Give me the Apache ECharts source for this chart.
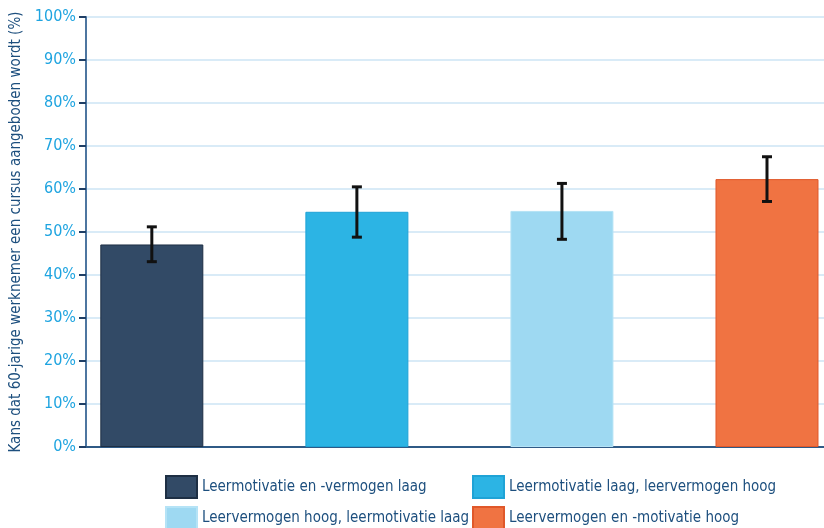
<!DOCTYPE html>
<html>
<head>
<meta charset="utf-8">
<script src="https://cdn.jsdelivr.net/npm/echarts@6/dist/echarts.min.js"></script>
<style>
html,body{margin:0;padding:0;background:#fff;}
#chart{width:824px;height:528px;}
</style>
</head>
<body>
<div id="chart"></div>
<script>
var categories = [
  'Leermotivatie en -vermogen laag',
  'Leermotivatie laag, leervermogen hoog',
  'Leervermogen hoog, leermotivatie laag',
  'Leervermogen en -motivatie hoog'
];
var values = [47.1, 54.7, 54.9, 62.3];
var errLow = [43.1, 48.8, 48.3, 57.1];
var errHigh = [51.2, 60.5, 61.3, 67.5];
var colors = ['#324a66', '#2cb4e4', '#9ed9f2', '#f07342'];
var borderColors = ['#1e2f44', '#1fa3d6', '#b5e3f6', '#e0582a'];
var yTicks = [0, 10, 20, 30, 40, 50, 60, 70, 80, 90, 100];

var FONT = '"Liberation Sans Narrow", "DejaVu Sans Condensed", "Roboto Condensed", sans-serif';
var chart = echarts.init(document.getElementById('chart'));

var series = categories.map(function (name, i) {
  return {
    name: name,
    type: 'bar',
    barWidth: 103,
    barGap: '-100%',
    data: [[i, values[i]]],
    itemStyle: { color: colors[i], borderColor: borderColors[i], borderWidth: 1 },
    z: 2
  };
});

series.push({
  type: 'custom',
  name: 'err',
  z: 5,
  data: categories.map(function (c, i) { return [i, errLow[i], errHigh[i]]; }),
  renderItem: function (params, api) {
    var x = api.value(0);
    var lo = api.coord([x, api.value(1)]);
    var hi = api.coord([x, api.value(2)]);
    var hw = 5;
    var st = { stroke: '#111', lineWidth: 3 };
    return {
      type: 'group',
      children: [
        { type: 'line', shape: { x1: lo[0], y1: lo[1], x2: hi[0], y2: hi[1] }, style: st },
        { type: 'line', shape: { x1: hi[0] - hw, y1: hi[1], x2: hi[0] + hw, y2: hi[1] }, style: st },
        { type: 'line', shape: { x1: lo[0] - hw, y1: lo[1], x2: lo[0] + hw, y2: lo[1] }, style: st }
      ]
    };
  }
});

var legendPos = [
  { left: 165, top: 475 },
  { left: 472, top: 475 },
  { left: 165, top: 506 },
  { left: 472, top: 506 }
];
var legends = categories.map(function (name, i) {
  return {
    data: [name],
    left: legendPos[i].left,
    top: legendPos[i].top,
    padding: 0,
    itemWidth: 31,
    itemHeight: 22,
    icon: 'rect',
    selectedMode: false,
    textStyle: { fontFamily: FONT, fontSize: 15, color: '#1d4f7e' }
  };
});

chart.setOption({
  animation: false,
  grid: { left: 86, right: 0, top: 17, bottom: 81, outerBoundsMode: 'none', containLabel: false },
  legend: legends,
  xAxis: {
    type: 'value',
    min: -0.321,
    max: 3.278,
    axisLine: { show: true, onZero: false, lineStyle: { color: '#2f5a86', width: 2 } },
    axisTick: { show: false },
    axisLabel: { show: false },
    splitLine: { show: false }
  },
  yAxis: {
    type: 'value',
    min: 0,
    max: 100,
    interval: 10,
    name: 'Kans dat 60-jarige werknemer een cursus aangeboden wordt (%)',
    nameLocation: 'middle',
    nameGap: 57,
    nameTextStyle: { fontFamily: FONT, fontSize: 15, color: '#1d4f7e' },
    axisLine: { show: true, onZero: false, lineStyle: { color: '#4d76a0', width: 2 } },
    axisTick: { show: true, length: 7, lineStyle: { color: '#1f3f66', width: 2 } },
    axisLabel: {
      margin: 10,
      fontFamily: FONT,
      fontSize: 16,
      color: '#1ea4e0',
      formatter: function (v) { return yTicks.indexOf(v) >= 0 ? v + '%' : ''; }
    },
    splitLine: { show: true, lineStyle: { color: '#d9ebf7', width: 2 } }
  },
  series: series
});
</script>
</body>
</html>
